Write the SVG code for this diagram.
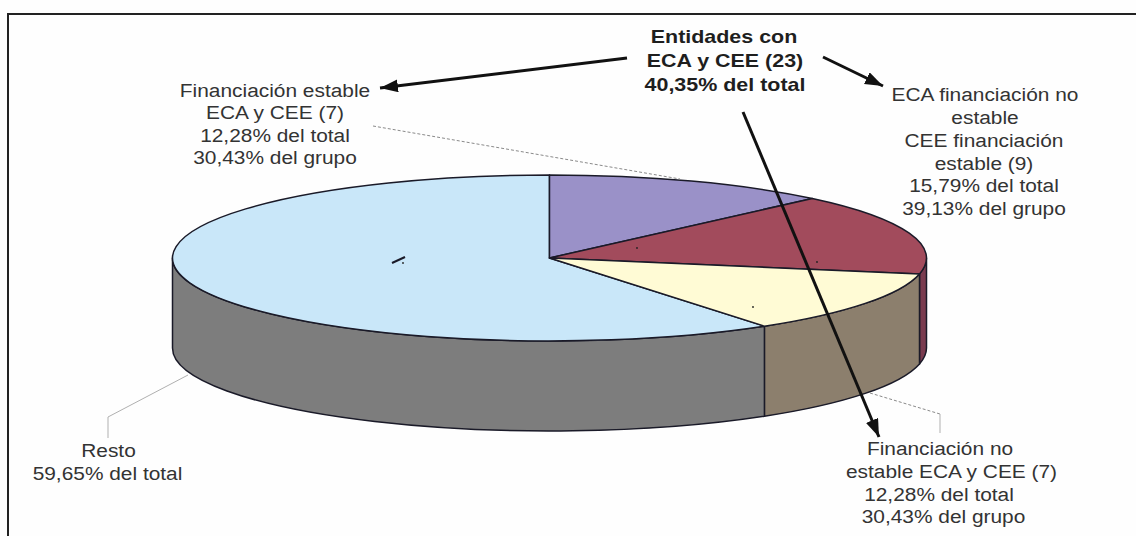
<svg xmlns="http://www.w3.org/2000/svg" width="1136" height="536" viewBox="0 0 1136 536">
<defs>
<style>
.lbl{font-family:"Liberation Sans",Arial,sans-serif;font-size:18px;fill:#333;text-anchor:middle}
.bold{font-family:"Liberation Sans",Arial,sans-serif;font-size:18.5px;font-weight:bold;fill:#1e1e1e;text-anchor:middle}
.edge{stroke:#1a1a28;stroke-width:1.5;stroke-linejoin:round}
.lead{fill:none;stroke:#8a8a8a;stroke-width:1;stroke-dasharray:3 2}
.leads{fill:none;stroke:#b0b0b0;stroke-width:1}
.arrow{fill:none;stroke:#111;stroke-width:3}
</style>
<marker id="ah" markerUnits="userSpaceOnUse" markerWidth="20" markerHeight="14" refX="18" refY="6.5" orient="auto">
<path d="M0,0 L18,6.5 L0,13 Z" fill="#111"/>
</marker>
</defs>
<rect width="1136" height="536" fill="#fefefe"/>
<g id="frame">
<path d="M8,536 L8,14 L1136,14" fill="none" stroke="#222" stroke-width="2"/>
</g>
<g id="pie">
<g id="side-red"><path class="edge" fill="#7a3b4f" d="M926.5,258 A377,83 0 0 1 919.5,273.9 L919.5,363.9 A377,83 0 0 0 926.5,348 Z"/></g>
<g id="side-yellow"><path class="edge" fill="#8c7f6d" d="M919.5,273.9 A377,83 0 0 1 764.4,326.2 L764.4,416.2 A377,83 0 0 0 919.5,363.9 Z"/></g>
<g id="side-blue"><path class="edge" fill="#7d7d7d" d="M764.4,326.2 A377,83 0 0 1 172.5,258 L172.5,348 A377,83 0 0 0 764.4,416.2 Z"/></g>
<g id="slice-resto"><path class="edge" fill="#c9e7f9" d="M549.5,258 L764.4,326.2 A377,83 0 1 1 549.5,175 Z"/></g>
<g id="slice-estable"><path class="edge" fill="#9a91c8" d="M549.5,258 L549.5,175 A377,83 0 0 1 812.3,198.5 Z"/></g>
<g id="slice-eca-no-estable"><path class="edge" fill="#a24b5c" d="M549.5,258 L812.3,198.5 A377,83 0 0 1 919.5,273.9 Z"/></g>
<g id="slice-no-estable"><path class="edge" fill="#fffbd5" d="M549.5,258 L919.5,273.9 A377,83 0 0 1 764.4,326.2 Z"/></g>
<g id="marks" fill="#222">
<path d="M392,263 L405,257" stroke="#1a1a28" stroke-width="2"/>
<circle cx="403" cy="263" r="0.9"/>
<circle cx="637" cy="248" r="0.9"/>
<circle cx="817" cy="262" r="0.9"/>
<circle cx="753" cy="307" r="0.9"/>
</g>
</g>
<g id="connectors">
<path class="lead" d="M373,126 L680,179"/>
<path class="lead" d="M870,393 L940,414"/>
<path class="leads" d="M940,414 L940,433"/>
<path class="leads" d="M108,438 L108,417 L188,375"/>
<path class="arrow" d="M627,58 L380,88" marker-end="url(#ah)"/>
<path class="arrow" d="M823,57 L883,86" marker-end="url(#ah)"/>
<path class="arrow" d="M743,112 L879,437" marker-end="url(#ah)"/>
</g>
<g id="label-total">
<text class="bold" transform="translate(724,0) scale(1.16,1)" x="0" y="42.7">Entidades con</text>
<text class="bold" transform="translate(725,0) scale(1.16,1)" x="0" y="66.7">ECA y CEE (23)</text>
<text class="bold" transform="translate(725,0) scale(1.16,1)" x="0" y="90.7">40,35% del total</text>
</g>
<g id="label-estable">
<text class="lbl" transform="translate(275,0) scale(1.16,1)" x="0" y="97">Financiación estable</text>
<text class="lbl" transform="translate(275,0) scale(1.16,1)" x="0" y="119.5">ECA y CEE (7)</text>
<text class="lbl" transform="translate(275,0) scale(1.16,1)" x="0" y="142">12,28% del total</text>
<text class="lbl" transform="translate(275,0) scale(1.16,1)" x="0" y="164.5">30,43% del grupo</text>
</g>
<g id="label-eca-no-estable">
<text class="lbl" transform="translate(985,0) scale(1.16,1)" x="0" y="101.5">ECA financiación no</text>
<text class="lbl" transform="translate(985,0) scale(1.16,1)" x="0" y="124.2">estable</text>
<text class="lbl" transform="translate(984,0) scale(1.16,1)" x="0" y="146.9">CEE financiación</text>
<text class="lbl" transform="translate(984,0) scale(1.16,1)" x="0" y="169.6">estable (9)</text>
<text class="lbl" transform="translate(984,0) scale(1.16,1)" x="0" y="192.3">15,79% del total</text>
<text class="lbl" transform="translate(984,0) scale(1.16,1)" x="0" y="215">39,13% del grupo</text>
</g>
<g id="label-no-estable">
<text class="lbl" transform="translate(940,0) scale(1.16,1)" x="0" y="455">Financiación no</text>
<text class="lbl" transform="translate(951.5,0) scale(1.16,1)" x="0" y="478">estable ECA y CEE (7)</text>
<text class="lbl" transform="translate(939,0) scale(1.16,1)" x="0" y="500.7">12,28% del total</text>
<text class="lbl" transform="translate(943.5,0) scale(1.16,1)" x="0" y="523.4">30,43% del grupo</text>
</g>
<g id="label-resto">
<text class="lbl" transform="translate(108.5,0) scale(1.16,1)" x="0" y="457">Resto</text>
<text class="lbl" transform="translate(107.5,0) scale(1.16,1)" x="0" y="480">59,65% del total</text>
</g>
</svg>
